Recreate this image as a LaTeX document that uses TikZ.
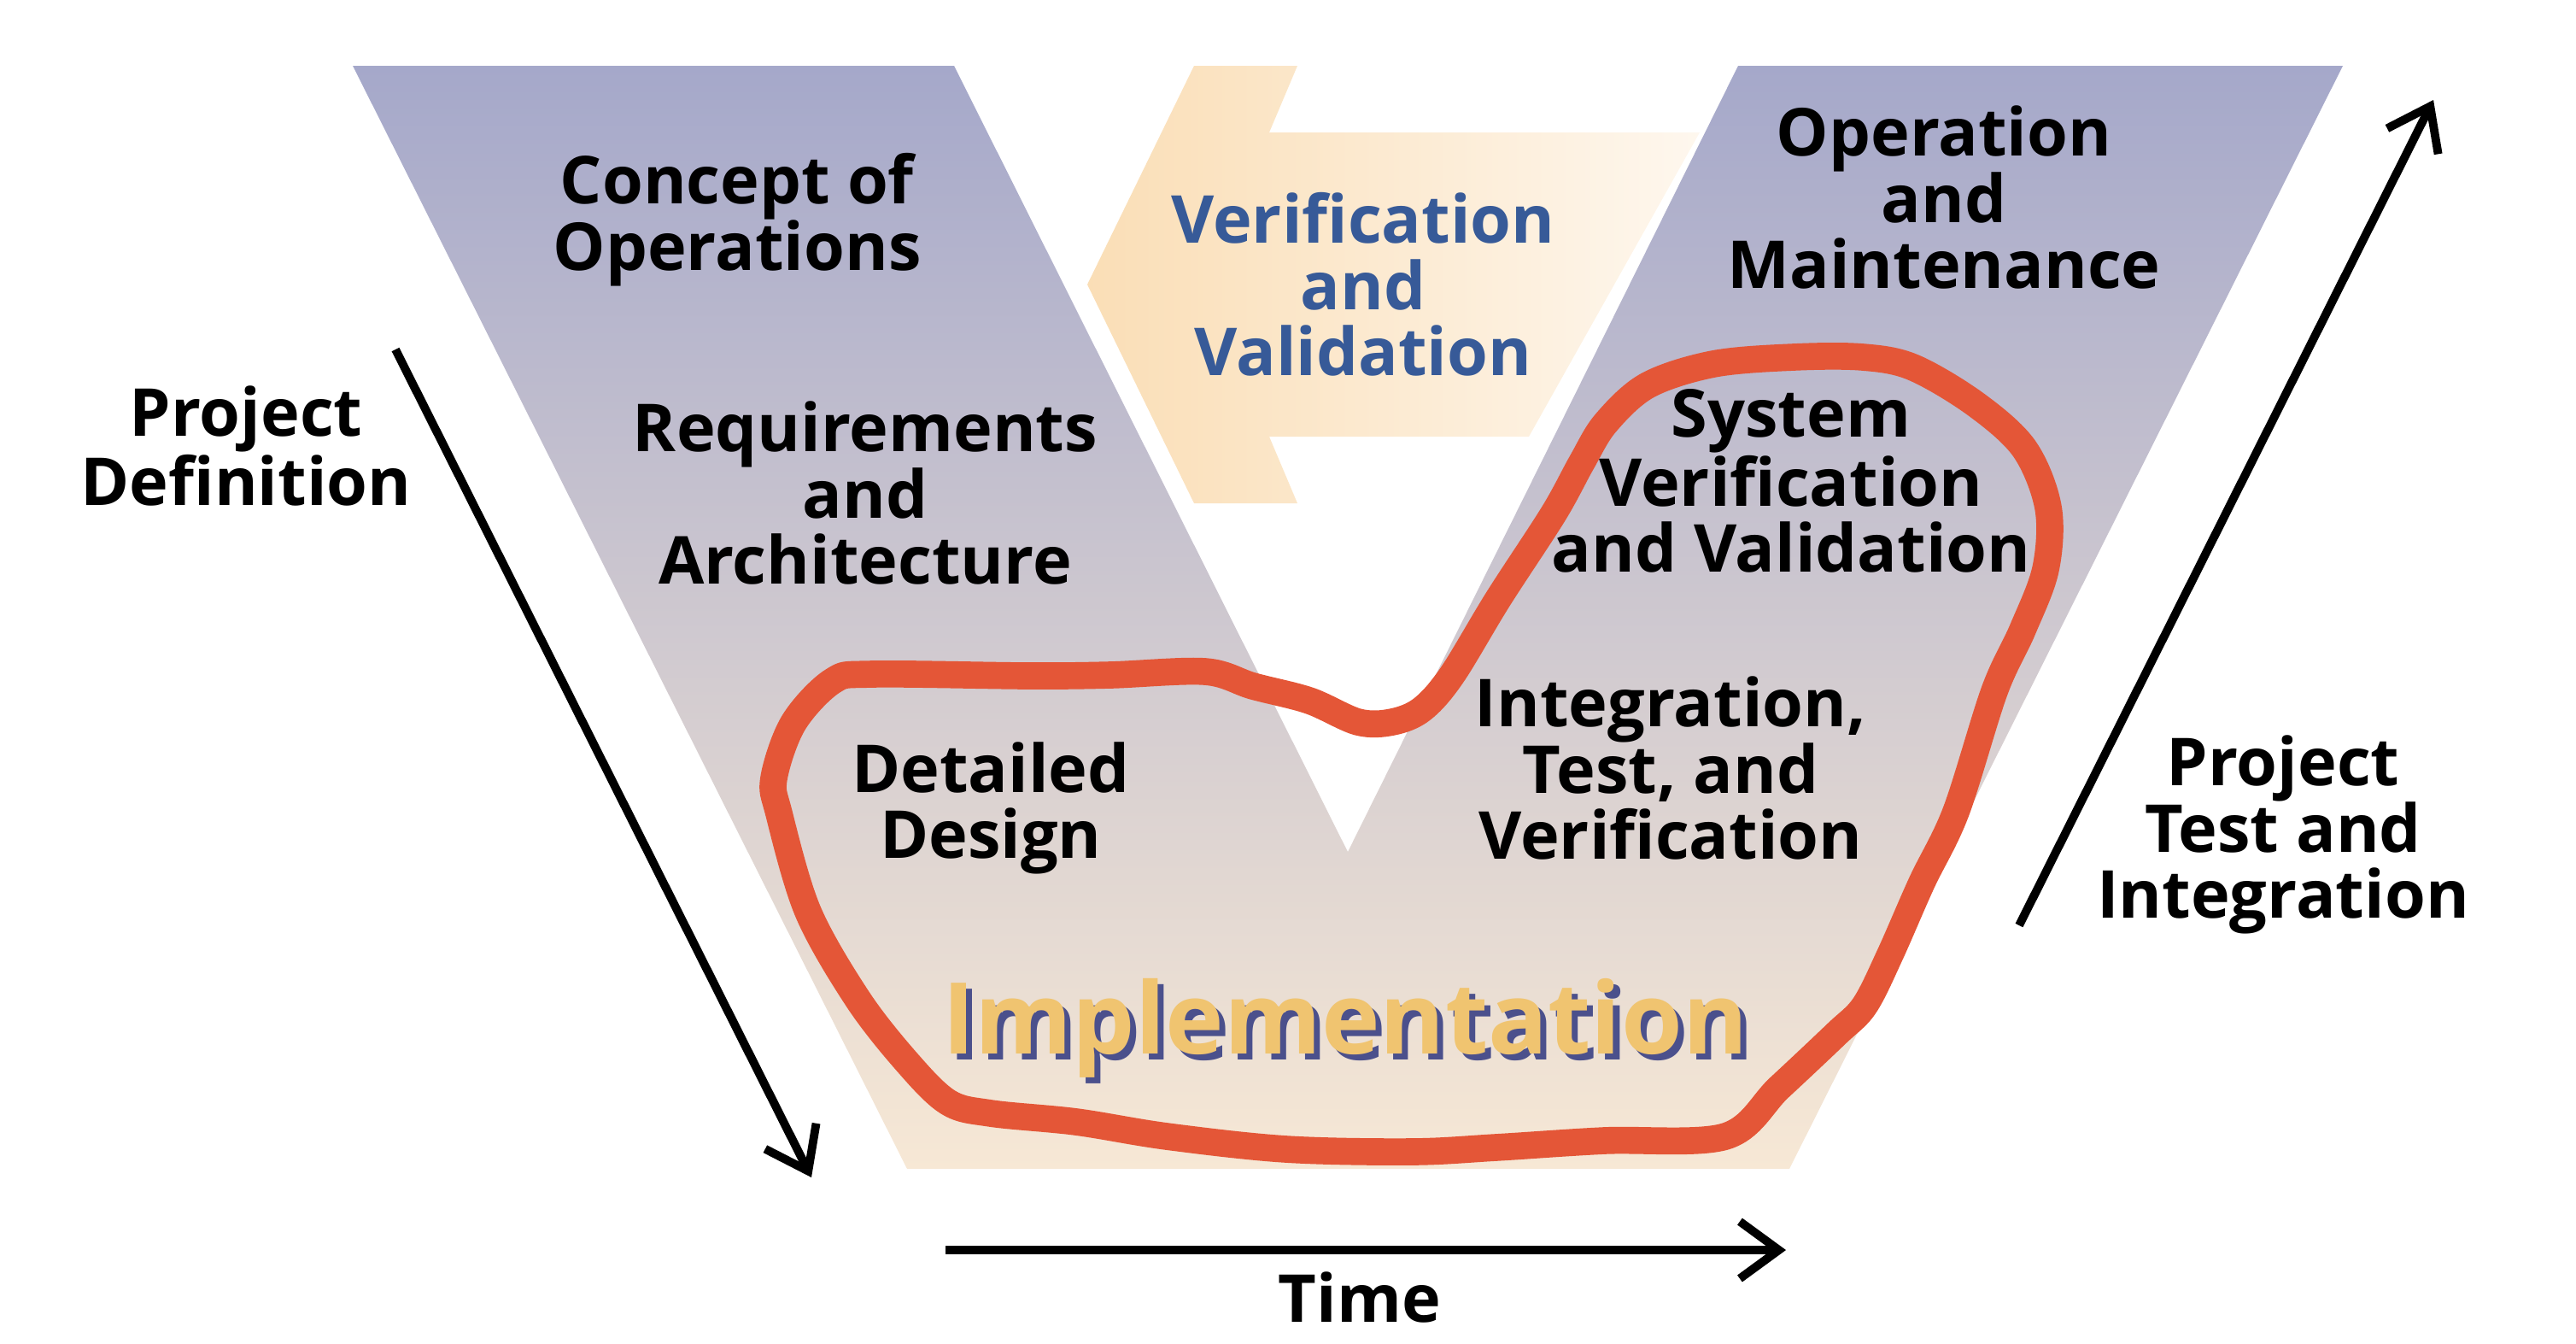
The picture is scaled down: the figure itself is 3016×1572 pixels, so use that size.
\documentclass[tikz,border=0pt]{standalone}
\usepackage{fontspec}
\setmainfont{Open Sans}
\usetikzlibrary{arrows.meta}

\definecolor{vtop}{RGB}{165,168,202}
\definecolor{vbot}{RGB}{247,232,213}
\definecolor{vvleft}{RGB}{250,222,182}
\definecolor{vvright}{RGB}{254,247,238}
\definecolor{vvblue}{RGB}{55,90,152}
\definecolor{loopred}{RGB}{228,86,55}
\definecolor{impyellow}{RGB}{240,196,112}
\definecolor{impshade}{RGB}{75,80,140}

\newcommand{\shadowtext}[1]{%
  \makebox[0pt][l]{\raisebox{-2pt}{\hspace{2pt}\textcolor{impshade}{#1}}}#1}

\tikzset{
>={Straight Barb[length=13pt,width=19pt]},
stage/.style={align=center, inner sep=0pt, text=black,
  font=\bfseries\fontsize{22}{22}\selectfont},
vvtext/.style={stage, text=vvblue},
implabel/.style={inner sep=0pt, text=impyellow,
  font=\bfseries\fontsize{33}{33}\selectfont},
flow/.style={->, line width=2.8pt},
redloop/.style={draw=loopred, line width=9pt, line join=round},
}

\begin{document}
\begin{tikzpicture}[x=0.01cm, y=-0.01cm]
    \useasboundingbox (0,0) rectangle (3016,1572);

    % the V
    \shade[top color=vtop, bottom color=vbot]
      (413,77) -- (1117,77) -- (1578,997) -- (2035,77) -- (2743,77)
      -- (2095,1368) -- (1062,1368) -- cycle;

    % verification arrow
    \shade[left color=vvleft, right color=vvright]
      (1273,333) -- (1398,77) -- (1519,77) -- (1486,155) -- (1990,155)
      -- (1790,511) -- (1486,511) -- (1519,589) -- (1398,589) -- cycle;

    \node[stage] (conops) at (863,257) {Concept of\\Operations};
    \node[stage] (reqs) at (1013,577) {Requirements\\and\\Architecture};
    \node[stage] (design) at (1160,946) {Detailed\\Design};
    \node[vvtext] (vandv) at (1596,333) {Verification\\and\\Validation};
    \node[stage] (opsmaint) at (2276,231) {Operation\\and\\Maintenance};
    \node[stage] (sysvv) at (2097,563) {System\\Verification\\and Validation};
    \node[stage] (inttest) at (1956,899) {Integration,\\Test, and\\Verification};
    \node[implabel] (impl) at (1575,1207) {\shadowtext{Implementation}};

    \node[stage] (projdef) at (288,522) {Project\\Definition};
    \node[stage] (projtest) at (2673,977) {Project\\Test and\\Integration};
    \node[stage] (time) at (1592,1518) {Time};

    % scope marked by hand
    \draw[redloop] plot[smooth cycle, tension=0.55] coordinates {
      (1021,789) (1204,791) (1300,790) (1411,786) (1467,803) (1533,820)
      (1590,845) (1630,845) (1665,830) (1700,790) (1754,701) (1819,601)
      (1852,541) (1880,495) (1929,451) (2006,426) (2100,418) (2181,418)
      (2240,430) (2313,473) (2370,525) (2398,594) (2395,666) (2368,737)
      (2335,809) (2290,950) (2250,1033) (2213,1117) (2183,1177) (2150,1210)
      (2083,1273) (2020,1330) (1878,1335) (1751,1343) (1653,1348) (1506,1345)
      (1366,1330) (1260,1313) (1160,1303) (1110,1290) (1061,1242) (1004,1169)
      (946,1067) (912,952) (906,911) (929,846) (975,797)};

    \coordinate (defstart) at (463,409);
    \coordinate (defend) at (950,1378);
    \coordinate (timestart) at (1107,1463);
    \coordinate (timeend) at (2091,1463);
    \coordinate (teststart) at (2364,1083);
    \coordinate (testend) at (2849,117);

    \draw[flow] (defstart) -- (defend);
    \draw[flow] (timestart) -- (timeend);
    \draw[flow] (teststart) -- (testend);

\end{tikzpicture}
\end{document}
